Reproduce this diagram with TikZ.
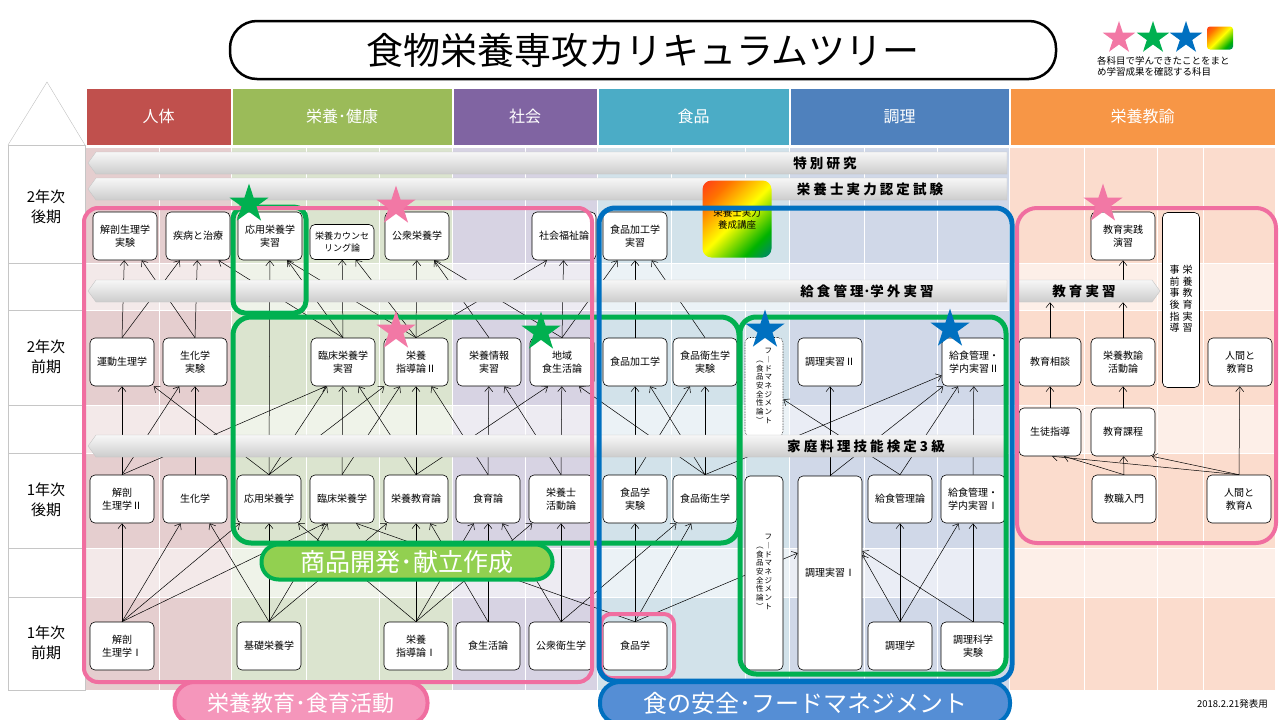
\documentclass[tikz,border=0pt]{standalone}
\usepackage{fontspec}
\setmainfont{Noto Sans CJK JP}
\usetikzlibrary{arrows.meta,shapes.geometric}

\definecolor{jintai}{RGB}{192,80,77}
\definecolor{kenkou}{RGB}{155,187,89}
\definecolor{shakai}{RGB}{128,100,162}
\definecolor{shokuhinC}{RGB}{75,172,198}
\definecolor{chouriC}{RGB}{79,129,189}
\definecolor{kyouyu}{RGB}{247,150,70}
\definecolor{jintaiBg}{RGB}{229,206,207}
\definecolor{kenkouBg}{RGB}{219,228,207}
\definecolor{shakaiBg}{RGB}{215,211,227}
\definecolor{shokuhinBg}{RGB}{210,226,234}
\definecolor{chouriBg}{RGB}{208,216,232}
\definecolor{kyouyuBg}{RGB}{251,220,205}
\definecolor{pinkline}{RGB}{240,110,160}
\definecolor{pinkfill}{RGB}{245,150,187}
\definecolor{starpink}{RGB}{242,120,165}
\definecolor{greenline}{RGB}{0,176,80}
\definecolor{greenfill}{RGB}{146,208,80}
\definecolor{blueline}{RGB}{0,112,192}
\definecolor{bluefill}{RGB}{85,142,213}

\pgfdeclarehorizontalshading{rainbow}{100bp}{color(0bp)=(red!80!magenta); color(28bp)=(orange!90!red); color(50bp)=(yellow); color(72bp)=(green!70!black); color(100bp)=(blue!70!cyan)}

\pgfdeclarelayer{grid}
\pgfdeclarelayer{links}
\pgfsetlayers{grid,links,main}

\tikzset{
  course/.style={draw, fill=white, rounded corners=5pt, line width=0.6pt, minimum width=64pt, minimum height=48pt, inner sep=1pt, align=center, font=\fontsize{10}{13}\selectfont},
  tate/.style={course, minimum width=38pt, font=\fontsize{7.5}{8.2}\selectfont},
  prereq/.style={-{Straight Barb[length=5pt,width=8pt]}, line width=0.5pt},
  band/.style={top color=gray!6, bottom color=gray!40, draw=gray!45, line width=0.4pt},
  bandtext/.style={inner sep=0pt, font=\bfseries\fontsize{13.5}{14}\selectfont},
  hdr/.style={draw=white, line width=0.5pt, text=white, minimum height=57pt, inner sep=0pt, font=\fontsize{16}{16}\selectfont},
  yearlbl/.style={align=center, font=\fontsize{15}{20}\selectfont},
  grp/.style={rounded corners=14pt, line width=4pt},
  pill/.style={rounded corners=20pt, line width=4pt, text=white, inner sep=0pt},
  award/.style={star, star points=5, star point ratio=2.618, minimum size=41pt, inner sep=0pt}
}

\begin{document}
\begin{tikzpicture}[x=1pt,y=-1pt]
\useasboundingbox (0,0) rectangle (1280,720);

% title and legend
\node[draw, line width=2.5pt, rounded corners=27pt, minimum width=826pt, minimum height=58pt, inner sep=0pt, font=\fontsize{37}{37}\selectfont] (title) at (643,50) {食物栄養専攻カリキュラムツリー};
\node[award, fill=starpink, minimum size=34pt] (legpink) at (1119,38) {};
\node[award, fill=greenline, minimum size=34pt] (leggreen) at (1153,38) {};
\node[award, fill=blueline, minimum size=34pt] (legblue) at (1186,38) {};
\node[shade, shading=rainbow, shading angle=-45, rounded corners=3pt, minimum width=26pt, minimum height=23pt, inner sep=0pt] (legrainbow) at (1220,38) {};
\node[anchor=north west, align=left, inner sep=0pt, font=\fontsize{9.5}{11.5}\selectfont] (legtext) at (1097,56) {各科目で学んできたことをまと\\め学習成果を確認する科目};

% background grid
\begin{pgfonlayer}{grid}
\foreach \xa/\xb/\c in {86/231/jintaiBg, 232/452/kenkouBg, 453/597/shakaiBg, 598/789/shokuhinBg, 790/1009/chouriBg, 1010/1275/kyouyuBg}{
  \fill[fill=\c] (\xa,148) rectangle (\xb,690);
  \foreach \ya/\yb in {263/310, 405/453, 548/597}
    \fill[fill=\c!45!white] (\xa,\ya) rectangle (\xb,\yb);
}
\foreach \xx in {159,306,379,525,671,745,864,937,1084,1157,1203}
  \draw[white, line width=0.8pt] (\xx,148) -- (\xx,690);
\foreach \yy in {263,310,405,453,548,597}
  \draw[white, line width=0.8pt] (86,\yy) -- (1275,\yy);
\end{pgfonlayer}

% year column
\draw[gray!50] (8,145) -- (47,82) -- (85,145);
\draw[gray!45, fill=white] (8,145) rectangle (85,690);
\foreach \yy in {263,310,405,453,548,597}
  \draw[gray!45] (8,\yy) -- (85,\yy);
\node[yearlbl] (y2b) at (46,207) {2年次\\後期};
\node[yearlbl] (y2a) at (46,357) {2年次\\前期};
\node[yearlbl] (y1b) at (46,500) {1年次\\後期};
\node[yearlbl] (y1a) at (46,643) {1年次\\前期};

% headers
\foreach \xa/\xb/\c/\t [count=\i] in {86/231/jintai/人体, 232/452/kenkou/栄養･健康, 453/597/shakai/社会, 598/789/shokuhinC/食品, 790/1009/chouriC/調理, 1010/1275/kyouyu/栄養教諭}
  \node[hdr, fill=\c, minimum width={(\xb-\xa)*1pt}] (head\i) at ({(\xa+\xb)/2},116.5) {\t};

% 2nd year, 2nd term
\node[course] (kaibouJ) at (125,236) {解剖生理学\\実験};
\node[course] (shippei) at (198,236) {疾病と治療};
\node[course] (ouyouJ) at (270,236) {応用栄養学\\実習};
\node[course, minimum height=35pt, font=\fontsize{9}{12}\selectfont] (counsel) at (342,242) {栄養カウンセ\\リング論};
\node[course] (koushuE) at (417,236) {公衆栄養学};
\node[course] (fukushi) at (564,236) {社会福祉論};
\node[course] (kakouJ) at (635,236) {食品加工学\\実習};
\node[course] (jissen) at (1123,236) {教育実践\\演習};
\node[course, minimum width=37pt, minimum height=175pt, font=\fontsize{10}{11}\selectfont] (jizen) at (1181,300) {\begin{tabular}{@{}c@{\hspace{3pt}}c@{}}事&栄\\前&養\\事&教\\後&育\\指&実\\導&習\end{tabular}};

% 2nd year, 1st term
\node[course] (undou) at (122,362) {運動生理学};
\node[course] (seikaJ) at (195,362) {生化学\\実験};
\node[course] (rinshouJ) at (343,362) {臨床栄養学\\実習};
\node[course] (shidou2) at (416,362) {栄養\\指導論Ⅱ};
\node[course] (jouhou) at (489,362) {栄養情報\\実習};
\node[course] (chiiki) at (562,362) {地域\\食生活論};
\node[course] (kakou) at (635,362) {食品加工学};
\node[course] (eiseiJ) at (705,362) {食品衛生学\\実験};
\node[tate, densely dotted, minimum height=99pt] (fm2) at (764,387) {\begin{tabular}{@{}c@{\hspace{1pt}}c@{}}&フ\\︵&︱\\食&ド\\品&マ\\安&ネ\\全&ジ\\性&メ\\論&ン\\︶&ト\end{tabular}};
\node[course] (chouri2) at (830,362) {調理実習Ⅱ};
\node[course] (kyushoku2) at (974,362) {給食管理・\\学内実習Ⅱ};
\node[course, minimum width=62pt] (soudan) at (1050,362) {教育相談};
\node[course] (katsudou) at (1123,362) {栄養教諭\\活動論};
\node[course] (ningenB) at (1240,362) {人間と\\教育B};

% 1st year, 2nd term
\node[course] (kaibou2) at (122,499) {解剖\\生理学Ⅱ};
\node[course] (seika) at (195,499) {生化学};
\node[course] (ouyou) at (269,499) {応用栄養学};
\node[course] (rinshou) at (342,499) {臨床栄養学};
\node[course] (kyouiku) at (416,499) {栄養教育論};
\node[course] (shokuiku) at (488,499) {食育論};
\node[course] (eiyoushi) at (561,499) {栄養士\\活動論};
\node[course] (shokuhinJ) at (635,499) {食品学\\実験};
\node[course] (eisei) at (705,499) {食品衛生学};
\node[tate, minimum height=194pt] (fm1) at (764,573) {\begin{tabular}{@{}c@{\hspace{1pt}}c@{}}&フ\\︵&︱\\食&ド\\品&マ\\安&ネ\\全&ジ\\性&メ\\論&ン\\︶&ト\end{tabular}};
\node[course, minimum height=194pt] (chouri1) at (830,573) {調理実習Ⅰ};
\node[course] (kanri) at (900,499) {給食管理論};
\node[course] (kyushoku1) at (973,499) {給食管理・\\学内実習Ⅰ};
\node[course, minimum width=62pt] (seito) at (1050,432) {生徒指導};
\node[course] (katei) at (1123,432) {教育課程};
\node[course] (kyoushoku) at (1124,499) {教職入門};
\node[course] (ningenA) at (1239,499) {人間と\\教育A};

% 1st year, 1st term
\node[course] (kaibou1) at (122,646) {解剖\\生理学Ⅰ};
\node[course] (kiso) at (269,646) {基礎栄養学};
\node[course] (shidou1) at (416,646) {栄養\\指導論Ⅰ};
\node[course] (shokuseikatsu) at (488,646) {食生活論};
\node[course] (eiseigaku) at (561,646) {公衆衛生学};
\node[course] (shokuhin) at (635,646) {食品学};
\node[course] (chourigaku) at (900,646) {調理学};
\node[course] (kagaku) at (973,646) {調理科学\\実験};

% bands
\shade[band] (88,163) -- (96,152) -- (1007,152) -- (1007,174) -- (96,174) -- cycle;
\shade[band] (88,189) -- (96,178) -- (1007,178) -- (1007,200) -- (96,200) -- cycle;
\shade[band] (88,291) -- (96,280) -- (1007,280) -- (1007,302) -- (96,302) -- cycle;
\shade[band] (88,446) -- (96,435) -- (1007,435) -- (1007,457) -- (96,457) -- cycle;
\shade[band] (1018,280) -- (1152,280) -- (1160,291) -- (1152,302) -- (1018,302) -- cycle;
\node[bandtext] (tokubetsu) at (825,163) {特 別 研 究};
\node[bandtext] (nintei) at (870,189) {栄 養 士 実 力 認 定 試 験};
\node[bandtext] (gakugai) at (867,291) {給 食 管 理･学 外 実 習};
\node[bandtext] (kentei) at (866,446) {家 庭 料 理 技 能 検 定 3 級};
\node[bandtext, minimum width=132pt, minimum height=22pt] (kyoiku) at (1084,291) {教 育 実 習};

\node[shade, shading=rainbow, shading angle=-45, rounded corners=9pt, minimum width=69pt, minimum height=77pt, align=center, font=\fontsize{9.5}{12}\selectfont] (kouza) at (737,219) {栄養士実力\\養成講座};

% prerequisites
\begin{pgfonlayer}{links}
\begin{scope}[prereq]
  \draw (undou.north) -- (kaibouJ);
  \draw (seikaJ.north) -- (kaibouJ);
  \draw (undou.north) -- (shippei);
  \draw (seikaJ.north) -- (shippei);
  \draw (rinshouJ.north) -- (shippei.310);
  \draw (ouyou.north) -- (ouyouJ);
  \draw (rinshouJ.north) -- (ouyouJ);
  \draw (shidou2.north) -- (ouyouJ.305);
  \draw (rinshouJ.north) -- (counsel);
  \draw (shidou2.north) -- (counsel);
  \draw (shidou2.north) -- (koushuE);
  \draw (jouhou.north) -- (koushuE);
  \draw (chiiki.north) -- (koushuE.305);
  \draw (shidou2.north) -- (fukushi.235);
  \draw (chiiki.north) -- (fukushi);
  \draw (chiiki.north) -- (kakouJ);
  \draw (kakou.north) -- (kakouJ);
  \draw (eiseiJ.north) -- (kakouJ);
  \draw (soudan) -- (soudan |- kyoiku.south);
  \draw (katsudou) -- (katsudou |- kyoiku.south);
  \draw (kyoiku.north -| jissen) -- (jissen);

  \draw (kaibou2.north) -- (undou);
  \draw (ouyou.north) -- (undou);
  \draw (seika.north) -- (seikaJ);
  \draw (kaibou2.north) -- (seikaJ);
  \draw (kaibou2.north) -- (rinshouJ.235);
  \draw (ouyou.north) -- (rinshouJ);
  \draw (rinshou.north) -- (rinshouJ);
  \draw (kyouiku.north) -- (rinshouJ);
  \draw (ouyou.north) -- (shidou2);
  \draw (rinshou.north) -- (shidou2);
  \draw (kyouiku.north) -- (shidou2);
  \draw (shokuiku.north) -- (shidou2);
  \draw (shokuiku.north) -- (jouhou);
  \draw (eiyoushi.north) -- (jouhou);
  \draw (kyouiku.north) -- (chiiki.240);
  \draw (eiyoushi.north) -- (chiiki);
  \draw (eisei.north) -- (chiiki.305);
  \draw (shokuhinJ.north) -- (kakou);
  \draw (eisei.north) -- (kakou);
  \draw (shokuhinJ.north) -- (eiseiJ);
  \draw (eisei.north) -- (eiseiJ);
  \draw (chouri1.north) -- (chouri2);
  \draw (kanri.north) -- (fm2);
  \draw (eisei.north) -- (kyushoku2);
  \draw (chouri1.north) -- (kyushoku2);
  \draw (kanri.north) -- (kyushoku2);
  \draw (kyushoku1.north) -- (kyushoku2);
  \draw (seito.north) -- (soudan);
  \draw (katei.north) -- (katsudou);
  \draw (ningenA.north) -- (ningenB);

  \draw (kaibou1.north) -- (kaibou2);
  \draw (kaibou1.north) -- (seika);
  \draw (kiso.north) -- (seika);
  \draw (kaibou1.north) -- (ouyou);
  \draw (kiso.north) -- (ouyou);
  \draw (shidou1.north) -- (ouyou);
  \draw (kaibou1.north) -- (rinshou.235);
  \draw (kiso.north) -- (rinshou);
  \draw (shokuhin.north) -- (rinshou.300);
  \draw (kiso.north) -- (kyouiku);
  \draw (shidou1.north) -- (kyouiku);
  \draw (shokuseikatsu.north) -- (kyouiku);
  \draw (shidou1.north) -- (shokuiku);
  \draw (shokuseikatsu.north) -- (shokuiku);
  \draw (eiseigaku.north) -- (shokuiku);
  \draw (shidou1.north) -- (eiyoushi);
  \draw (eiseigaku.north) -- (eiyoushi);
  \draw (shokuhin.north) -- (shokuhinJ);
  \draw (shokuhin.north) -- (eisei);
  \draw (eiseigaku.north) -- (eisei);
  \draw (shokuhin.north) -- ([yshift=20pt]chouri1.west);
  \draw (chourigaku.north) -- ([yshift=18pt]chouri1.east);
  \draw (kagaku.north) -- ([yshift=22pt]chouri1.east);
  \draw (chourigaku.north) -- (kanri);
  \draw (chourigaku.north) -- (kyushoku1);
  \draw (kagaku.north) -- (kyushoku1);
  \draw (kyoushoku.north) -- (seito.300);
  \draw (ningenA.north) -- (seito.275);
  \draw (kyoushoku.north) -- (katei);
  \draw (ningenA.north) -- (katei.320);
\end{scope}
\end{pgfonlayer}

% groups
\draw[grp, greenline, line width=5pt, rounded corners=12pt] (233,207) rectangle (306,313);
\draw[grp, greenline, line width=5pt, rounded corners=18pt] (233,317) rectangle (739,543);
\draw[grp, greenline, line width=5pt, rounded corners=16pt] (740,317) rectangle (1006,674);
\draw[grp, pinkline] (84,208) rectangle (592,682);
\draw[grp, pinkline, rounded corners=10pt] (601,614) rectangle (674,678);
\draw[grp, blueline, line width=5pt, rounded corners=16pt] (599,208) rectangle (1012,681);
\draw[grp, pinkline, rounded corners=20pt] (1017,208) rectangle (1276,543);

\node[pill, fill=greenfill, draw=greenline, rounded corners=17pt, minimum width=291pt, minimum height=35pt, font=\fontsize{25}{25}\selectfont] (shouhin) at (407,562) {商品開発･献立作成};
\node[pill, fill=pinkfill, draw=pinkline, minimum width=253pt, minimum height=42pt, font=\fontsize{22}{22}\selectfont] (shokuikuLbl) at (301,703) {栄養教育･食育活動};
\node[pill, fill=bluefill, draw=blueline, minimum width=410pt, minimum height=42pt, font=\fontsize{24}{24}\selectfont] (anzen) at (805,703) {食の安全･フードマネジメント};

% stars
\node[award, fill=greenline] (starA) at (249,204) {};
\node[award, fill=starpink] (starB) at (396,206) {};
\node[award, fill=starpink] (starC) at (396,331) {};
\node[award, fill=greenline] (starD) at (541,332) {};
\node[award, fill=blueline] (starE) at (765,330) {};
\node[award, fill=blueline] (starF) at (950,329) {};
\node[award, fill=starpink] (starG) at (1103,204) {};

\node[anchor=east, inner sep=0pt, font=\fontsize{9.5}{10}\selectfont] (hizuke) at (1268,704) {2018.2.21発表用};
\end{tikzpicture}
\end{document}
